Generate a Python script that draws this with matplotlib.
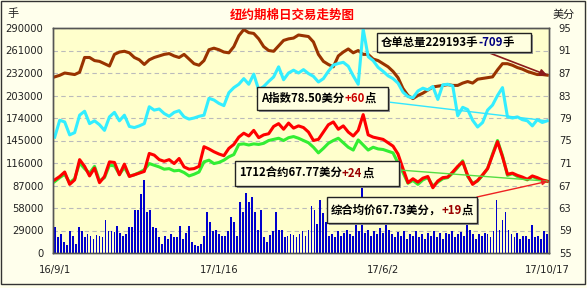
import numpy as np
import matplotlib
matplotlib.use('Agg')
import matplotlib.pyplot as plt
from matplotlib.patches import Rectangle

W, H = 587, 288

# warehouse stocks, thousand lots (left axis)
stock = [227, 229, 232, 231, 230, 233, 252, 252, 248, 247,
         244, 241, 256, 259, 260, 258, 252, 249, 243, 249,
         252, 254, 256, 257, 254, 252, 256, 250, 244, 242,
         248, 262, 264, 262, 259, 258, 266, 280, 288, 284,
         283, 276, 266, 261, 260, 267, 274, 276, 277, 281,
         280, 279, 272, 256, 247, 243, 240, 254, 259, 263,
         258, 261, 256, 256, 250, 248, 244, 240, 234, 226,
         212, 203, 199, 203, 206, 210, 214, 215, 216, 217,
         216, 216, 219, 221, 219, 224, 225, 226, 227, 236,
         244, 244, 242, 239, 237, 234, 232, 230, 230, 229.193]

# A index, cents (right axis)
a_index = [75.6, 78.6, 78.3, 76.0, 76.4, 79.5, 80.2, 78.0, 78.5, 77.8,
           76.8, 79.2, 80.0, 78.5, 79.5, 77.5, 77.3, 77.6, 78.0, 81.0,
           80.4, 80.6, 79.8, 79.3, 80.0, 80.3, 79.2, 78.8, 79.0, 79.3,
           79.5, 82.5, 82.2, 81.6, 81.2, 83.5, 84.4, 85.0, 86.0, 85.0,
           86.8, 84.0, 84.6, 85.5, 86.3, 88.1, 85.8, 87.0, 87.5, 87.0,
           87.6, 86.9, 86.4, 85.4, 86.0, 87.3, 88.4, 88.7, 88.9, 88.2,
           86.5, 85.0, 94.8, 89.9, 89.2, 88.0, 87.3, 86.5, 86.0, 85.2,
           83.6, 82.8, 82.6, 83.8, 84.3, 84.0, 84.6, 82.3, 84.9, 85.0,
           84.7, 79.4, 80.9, 80.5, 78.6, 77.4, 78.2, 80.4, 81.3, 83.0,
           84.4, 79.2, 79.0, 79.2, 78.7, 78.5, 77.6, 78.7, 78.2, 78.5]

# Dec-17 contract, cents
dec17 = [68.0, 68.6, 69.4, 67.2, 68.0, 71.6, 70.4, 68.7, 70.1, 67.5,
         68.6, 71.2, 71.1, 68.9, 70.8, 68.6, 68.9, 69.2, 69.5, 72.7,
         72.4, 71.6, 71.3, 71.6, 70.9, 71.8, 70.3, 69.9, 70.0, 70.4,
         73.9, 73.5, 73.0, 72.6, 72.3, 73.6, 74.3, 75.6, 76.3, 75.8,
         76.8, 75.5, 76.0, 76.2, 77.5, 78.0, 77.0, 78.1, 77.2, 77.6,
         77.3, 76.5, 75.0, 75.2, 76.5, 77.8, 78.3, 77.0, 77.6, 76.5,
         75.8, 76.8, 79.6, 76.0, 75.6, 75.4, 75.2, 74.6, 74.0, 72.6,
         70.0, 67.5, 68.2, 67.6, 68.3, 68.6, 66.6, 67.8, 68.4, 68.5,
         69.4, 70.4, 71.2, 68.8, 67.2, 67.9, 68.9, 70.0, 72.4, 74.8,
         72.1, 69.0, 69.2, 68.8, 68.5, 68.1, 68.7, 68.4, 68.0, 67.77]

# composite average, cents
avg = [67.7, 68.4, 69.0, 67.5, 68.2, 71.0, 70.0, 69.2, 70.4, 67.8,
       68.4, 70.6, 70.5, 69.0, 70.2, 68.7, 68.9, 69.3, 69.8, 70.9,
       70.6, 70.3, 69.9, 70.0, 69.6, 69.7, 69.3, 68.7, 69.0, 69.4,
       71.2, 71.5, 70.9, 71.1, 71.5, 72.1, 72.5, 74.3, 74.4, 74.2,
       74.4, 74.3, 74.5, 75.0, 75.2, 75.4, 75.0, 75.5, 75.7, 75.4,
       75.0, 74.6, 73.8, 72.8, 73.6, 74.5, 75.0, 75.4, 74.6, 73.8,
       73.3, 75.1, 74.2, 73.3, 73.8, 73.5, 73.4, 73.1, 72.8, 71.0,
       69.3, 67.4, 67.9, 67.2, 68.0, 68.4, 66.9, 67.6, 68.2, 68.4,
       69.2, 70.2, 71.4, 68.6, 67.4, 67.8, 68.8, 70.0, 72.6, 75.0,
       72.3, 68.8, 69.1, 68.6, 68.3, 68.0, 68.6, 68.2, 67.9, 67.73]

# daily volume, thousand lots
volume = [33, 20, 24, 14, 10, 29, 22, 12, 33, 28,
          20, 24, 22, 18, 23, 22, 20, 42, 28, 29,
          27, 35, 26, 22, 24, 34, 33, 56, 55, 76,
          94, 53, 55, 33, 32, 20, 12, 22, 18, 24,
          21, 20, 35, 18, 26, 35, 14, 10, 9, 12,
          22, 53, 40, 28, 30, 25, 22, 22, 29, 47,
          40, 22, 66, 53, 77, 66, 72, 53, 30, 55,
          20, 14, 23, 28, 53, 30, 30, 20, 22, 24,
          23, 20, 24, 28, 22, 30, 60, 55, 38, 68,
          51, 40, 22, 25, 20, 28, 22, 26, 30, 25,
          22, 38, 28, 90, 26, 30, 22, 28, 24, 32,
          26, 42, 30, 24, 20, 27, 22, 28, 18, 25,
          22, 28, 20, 24, 18, 26, 22, 28, 20, 26,
          18, 26, 24, 28, 20, 25, 27, 22, 42, 30,
          24, 18, 25, 22, 26, 24, 20, 28, 68, 30,
          42, 53, 30, 24, 20, 26, 18, 22, 22, 18,
          36, 20, 22, 18, 29, 24]

date_labels = ['16/9/1', '17/1/16', '17/6/2', '17/10/17']
date_pos = [0, 95, 189, 284]
left_ticks = list(range(0, 290001, 29000))
right_ticks = list(range(55, 96, 4))

ndays = 284
cjk = ['Noto Sans CJK SC', 'DejaVu Sans']


def px(x, y):
    return x / W, 1 - y / H


fig = plt.figure(figsize=(W / 100, H / 100), dpi=100, facecolor='#FFFFEC')
ax = fig.add_axes([53 / W, 1 - 253 / H, 496 / W, 225 / H])
ax.set_facecolor('#FFFFCC')
ax2 = ax.twinx()

xb = np.linspace(0, ndays, len(volume))
ax.bar(xb, np.array(volume) * 1000, width=0.62 * ndays / (len(volume) - 1),
       color='#0000CC', zorder=2)
ax.plot(np.linspace(0, ndays, len(stock)), np.array(stock) * 1000,
        color='#993300', lw=2.2, zorder=3)
ax2.plot(np.linspace(0, ndays, len(avg)), avg, color='#33EE33', lw=2.2)
ax2.plot(np.linspace(0, ndays, len(dec17)), dec17, color='#FF0000', lw=2.2)
ax2.plot(np.linspace(0, ndays, len(a_index)), a_index, color='#33EEFF', lw=2.2)

ax.set_xlim(-1, ndays + 1)
ax.set_ylim(0, 290000)
ax2.set_ylim(55, 95)
ax.set_yticks(left_ticks)
ax.set_yticklabels([str(v) for v in left_ticks])
ax2.set_yticks(right_ticks)
ax.set_xticks(date_pos)
ax.set_xticklabels(date_labels)
ax.yaxis.grid(True, linestyle=(0, (4, 3)), color='#BBBBBB', lw=0.8)
ax.set_axisbelow(True)
ax.tick_params(axis='y', length=0, pad=7, labelsize=7.2, labelcolor='#222222')
ax.tick_params(axis='x', length=0, pad=9, labelsize=7.2, labelcolor='#222222')
ax2.tick_params(axis='y', length=0, pad=7, labelsize=7.2, labelcolor='#222222')
for a in (ax, ax2):
    for s in a.spines.values():
        s.set_color('#555555')
        s.set_linewidth(1)

# titles / unit labels
fig.text(*px(292, 15), '纽约期棉日交易走势图', color='#FF0000', fontsize=9,
         fontweight='bold', family=cjk, ha='center', va='center')
fig.text(*px(7, 14), '手', fontsize=8, family=cjk, va='center', color='#222222')
fig.text(*px(553, 15), '美分', fontsize=8, family=cjk, va='center', color='#222222')

# connector lines from labels to the last points
ax.annotate('', xy=(ndays, stock[-1] * 1000), xytext=px(487, 52),
            textcoords='figure fraction',
            arrowprops=dict(arrowstyle='-|>', color='#8B1A1A', lw=1.2,
                            mutation_scale=10, shrinkA=0, shrinkB=0))
ax2.annotate('', xy=(ndays, a_index[-1]), xytext=px(388, 102),
             textcoords='figure fraction',
             arrowprops=dict(arrowstyle='-', color='#33E6FF', lw=1, shrinkA=0, shrinkB=0))
ax2.annotate('', xy=(ndays, dec17[-1]), xytext=px(399, 170),
             textcoords='figure fraction',
             arrowprops=dict(arrowstyle='-', color='#55DD44', lw=1, shrinkA=0, shrinkB=0))
ax2.annotate('', xy=(ndays, avg[-1]), xytext=px(477, 197),
             textcoords='figure fraction',
             arrowprops=dict(arrowstyle='-|>', color='#EE2222', lw=1,
                             mutation_scale=7, shrinkA=0, shrinkB=0))

renderer = fig.canvas.get_renderer()


def label_box(x0, y0, x1, y1, parts):
    sx, sy = px(x0 + 2, y1 + 2)
    fig.add_artist(Rectangle((sx, sy), (x1 - x0) / W, (y1 - y0) / H,
                             transform=fig.transFigure, facecolor='#999999',
                             edgecolor='none', zorder=4))
    bx, by = px(x0, y1)
    fig.add_artist(Rectangle((bx, by), (x1 - x0) / W, (y1 - y0) / H,
                             transform=fig.transFigure, facecolor='#FFFFE0',
                             edgecolor='#222222', lw=1, zorder=5))
    x, y = px(x0 + 4, (y0 + y1) / 2)
    for s, c in parts:
        t = fig.text(x, y, s, color=c, fontsize=8.2, fontweight='bold',
                     family=cjk, va='center', zorder=6)
        x += t.get_window_extent(renderer=renderer).width / fig.bbox.width


label_box(377, 33, 531, 52, [('仓单总量229193手', '#000000'), ('-709', '#000080'),
                             ('手', '#000000')])
label_box(257, 87, 388, 110, [('A指数78.50美分', '#000000'), ('+60', '#CC0000'),
                              ('点', '#000000')])
label_box(235, 161, 399, 186, [('1712合约67.77美分', '#000000'), ('+24', '#990000'),
                               ('点', '#000000')])
label_box(327, 197, 477, 223, [('综合均价67.73美分，', '#000000'), ('+19', '#990000'),
                               ('点', '#000000')])

# outer frame
fx, fy = px(0.5, 283.5)
fig.add_artist(Rectangle((fx, fy), 584 / W, 283 / H, transform=fig.transFigure,
                         facecolor='none', edgecolor='#333333', lw=1, zorder=7))

fig.savefig('out.png', dpi=100, facecolor=fig.get_facecolor())
